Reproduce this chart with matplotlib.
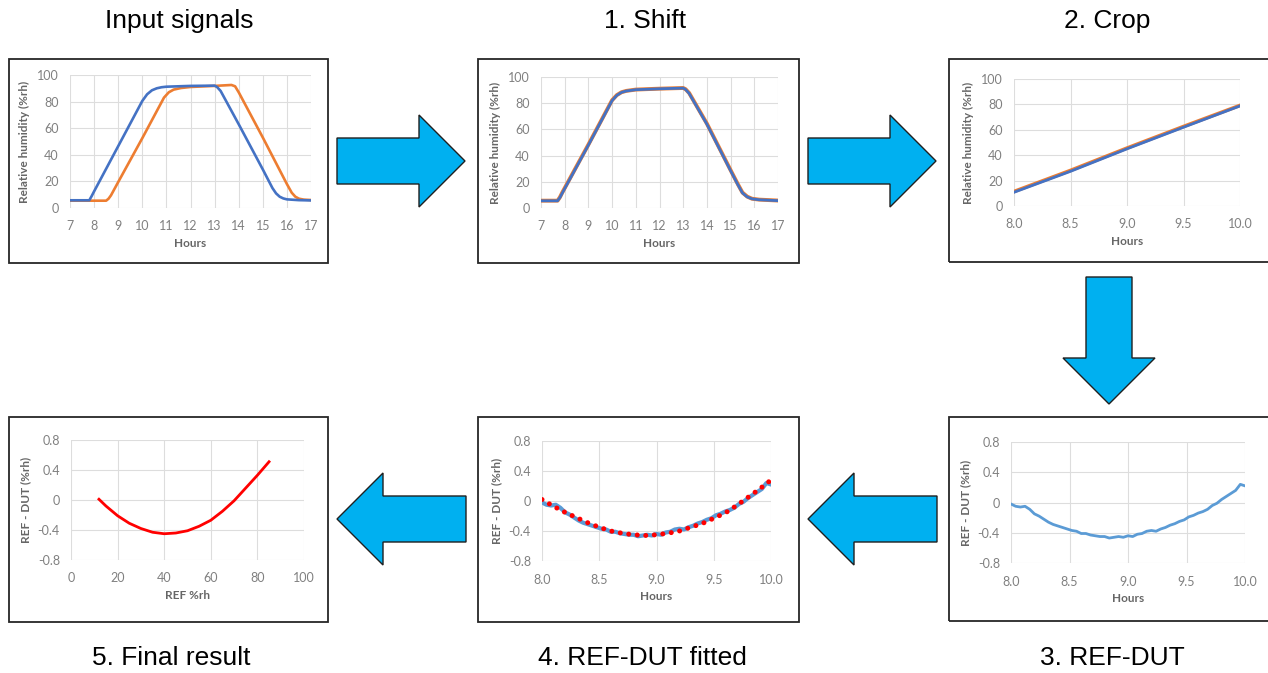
import numpy as np
import matplotlib.pyplot as plt
from matplotlib.patches import Rectangle, Polygon
from matplotlib.ticker import FuncFormatter

plt.rcParams['axes.unicode_minus'] = False

W, H = 1268, 673

# --- input signals (hours, %rh) ---
in_hours_ref = [7.0, 7.8, 7.9, 8.0, 9.0, 10.0, 10.2, 10.4, 10.6, 10.8, 11.0, 12.0, 13.0,
                13.1, 13.25, 14.0, 15.0, 15.4, 15.55, 15.7, 15.85, 16.0, 16.5, 17.0]
in_ref = [5.8, 5.8, 9.0, 12.5, 46.5, 80.5, 85.5, 88.5, 90.0, 90.8, 91.2, 91.8, 92.0,
          91.0, 88.0, 63.0, 29.0, 15.0, 11.0, 8.5, 7.2, 6.5, 5.9, 5.7]
in_hours_dut = [7.0, 8.5, 8.6, 8.7, 9.0, 10.0, 10.9, 11.1, 11.3, 11.6, 12.0, 13.0, 13.7,
                13.85, 14.0, 15.0, 16.0, 16.2, 16.35, 16.5, 16.7, 17.0]
in_dut = [5.5, 5.5, 7.0, 9.5, 19.5, 52.5, 83.0, 87.0, 89.0, 90.2, 91.0, 91.8, 92.5,
          91.5, 87.0, 53.0, 18.0, 11.5, 8.5, 7.0, 6.3, 6.0]

# --- after time shift ---
sh_hours = [7.0, 7.7, 7.8, 7.9, 9.0, 10.0, 10.2, 10.4, 10.6, 11.0, 12.0, 13.0, 13.1,
            13.25, 14.0, 15.0, 15.3, 15.5, 15.7, 15.9, 16.2, 17.0]
sh_ref = [5.5, 5.5, 8.0, 11.5, 48.0, 82.0, 86.0, 88.3, 89.3, 90.3, 91.0, 91.5, 90.5,
          87.5, 64.0, 28.5, 18.0, 11.5, 8.5, 7.0, 6.3, 5.6]
sh_dut = [5.6, 5.6, 8.3, 11.9, 48.4, 82.3, 86.2, 88.4, 89.4, 90.4, 91.1, 91.6, 90.7,
          87.8, 64.4, 28.9, 18.4, 11.8, 8.7, 7.1, 6.4, 5.7]

# --- cropped ramp ---
crop_hours = [8.0, 8.5, 9.0, 9.5, 10.0]
crop_ref = [10.8, 27.3, 45.0, 62.0, 78.8]
crop_dut = [11.4, 28.0, 45.6, 62.6, 79.2]

# --- REF - DUT difference over the ramp ---
diff_hours = np.linspace(8.0, 10.0, 51)
diff = [-0.02, -0.05, -0.06, -0.05, -0.09, -0.15, -0.18, -0.22, -0.26, -0.29,
        -0.31, -0.33, -0.35, -0.37, -0.38, -0.41, -0.41, -0.43, -0.44, -0.45,
        -0.45, -0.47, -0.46, -0.45, -0.46, -0.44, -0.45, -0.42, -0.41, -0.38,
        -0.37, -0.38, -0.35, -0.33, -0.30, -0.28, -0.25, -0.23, -0.19, -0.17,
        -0.14, -0.12, -0.09, -0.04, -0.01, 0.04, 0.08, 0.12, 0.16, 0.24, 0.22]

# --- polynomial fit of the difference ---
fit_hours = [8.0, 8.1, 8.2, 8.3, 8.4, 8.5, 8.6, 8.7, 8.8, 8.9, 9.0,
             9.1, 9.2, 9.3, 9.4, 9.5, 9.6, 9.7, 9.8, 9.9, 10.0]
fit = [0.02, -0.07, -0.15, -0.22, -0.29, -0.35, -0.40, -0.43, -0.45, -0.46, -0.45,
       -0.43, -0.40, -0.35, -0.30, -0.23, -0.16, -0.06, 0.05, 0.16, 0.28]

# --- final correction vs REF humidity ---
final_rh = [12, 15, 20, 25, 30, 35, 40, 45, 50, 55, 60, 65, 70, 75, 80, 85]
final_corr = [0.01, -0.08, -0.21, -0.31, -0.38, -0.43, -0.45, -0.44, -0.41, -0.35,
              -0.27, -0.15, -0.01, 0.16, 0.33, 0.51]

BLUE, ORANGE, LBLUE, RED = '#4472C4', '#ED7D31', '#5B9BD5', '#FF0000'
TICK_C, LAB_C, GRID_C = '#808080', '#666666', '#DDDDDD'

fig = plt.figure(figsize=(W / 100, H / 100), dpi=100)


def fx(x):
    return x / W


def fy(y):
    return 1 - y / H


def panel(frame, area, xlim, ylim, xticks, yticks, xfmt, ylabel, xlabel):
    l, t, r, b = frame
    fig.add_artist(Rectangle((fx(l), fy(b)), fx(r - l), (b - t) / H,
                             transform=fig.transFigure, fill=False,
                             edgecolor='#262626', lw=1.3))
    l, t, r, b = area
    ax = fig.add_axes([fx(l), fy(b), fx(r - l), (b - t) / H])
    ax.set_xlim(xlim)
    ax.set_ylim(ylim)
    ax.set_xticks(xticks)
    ax.set_yticks(yticks)
    ax.xaxis.set_major_formatter(FuncFormatter(xfmt))
    ax.yaxis.set_major_formatter(FuncFormatter(lambda v, p: f'{v:g}'))
    for s in ax.spines.values():
        s.set_visible(False)
    ax.grid(True, color=GRID_C, lw=0.8)
    ax.set_axisbelow(True)
    ax.tick_params(length=0, labelsize=9, labelcolor=TICK_C)
    ax.tick_params(axis='x', pad=9)
    ax.tick_params(axis='y', pad=8)
    for lab in ax.get_xticklabels() + ax.get_yticklabels():
        lab.set_family('Lato')
    ax.set_xlabel(xlabel, fontsize=8.5, fontweight='bold', color=LAB_C,
                  family='Lato', labelpad=4)
    ax.set_ylabel(ylabel, fontsize=8.5, fontweight='bold', color=LAB_C,
                  family='Lato', labelpad=5)
    return ax


int_fmt = lambda v, p: f'{v:g}'
one_fmt = lambda v, p: f'{v:.1f}'
rh_label = 'Relative humidity (%rh)'
d_label = 'REF - DUT (%rh)'

ax1 = panel((9, 59, 328, 263), (70, 75, 311, 208), (7, 17), (0, 100),
            range(7, 18), range(0, 101, 20), int_fmt, rh_label, 'Hours')
ax1.plot(in_hours_dut, in_dut, color=ORANGE, lw=1.9)
ax1.plot(in_hours_ref, in_ref, color=BLUE, lw=1.9)

ax2 = panel((478, 59, 799, 263), (541, 77, 778, 208), (7, 17), (0, 100),
            range(7, 18), range(0, 101, 20), int_fmt, rh_label, 'Hours')
ax2.plot(sh_hours, sh_dut, color=ORANGE, lw=2.8)
ax2.plot(sh_hours, sh_ref, color=BLUE, lw=2.0)

ax3 = panel((949, 59, 1275, 262), (1014, 79, 1240, 206), (8, 10), (0, 100),
            [8.0, 8.5, 9.0, 9.5, 10.0], range(0, 101, 20), one_fmt, rh_label, 'Hours')
ax3.plot(crop_hours, crop_dut, color=ORANGE, lw=2.6)
ax3.plot(crop_hours, crop_ref, color=BLUE, lw=2.0)

ax6 = panel((949, 417, 1275, 621), (1011, 442, 1245, 563), (8, 10), (-0.8, 0.8),
            [8.0, 8.5, 9.0, 9.5, 10.0], [-0.8, -0.4, 0, 0.4, 0.8], one_fmt, d_label, 'Hours')
ax6.plot(diff_hours, diff, color=LBLUE, lw=2.0)

ax5 = panel((478, 417, 799, 622), (542, 441, 771, 561), (8, 10), (-0.8, 0.8),
            [8.0, 8.5, 9.0, 9.5, 10.0], [-0.8, -0.4, 0, 0.4, 0.8], one_fmt, d_label, 'Hours')
ax5.plot(diff_hours, diff, color=LBLUE, lw=3.0)
ax5.plot(fit_hours, fit, color=RED, lw=3.6, linestyle=(0, (0.01, 1.7)),
         dash_capstyle='round')

ax4 = panel((9, 417, 328, 622), (71, 440, 304, 560), (0, 100), (-0.8, 0.8),
            range(0, 101, 20), [-0.8, -0.4, 0, 0.4, 0.8], int_fmt, d_label, 'REF %rh')
ax4.plot(final_rh, final_corr, color=RED, lw=2.0)


def arrow(tail, tip, shaft=46, head=92, head_len=46):
    p0, p1 = np.array(tail, float), np.array(tip, float)
    d = (p1 - p0) / np.linalg.norm(p1 - p0)
    n = np.array([-d[1], d[0]])
    base = p1 - d * head_len
    pts = [p0 + n * shaft / 2, base + n * shaft / 2, base + n * head / 2, p1,
           base - n * head / 2, base - n * shaft / 2, p0 - n * shaft / 2]
    pts = [(fx(x), fy(y)) for x, y in pts]
    fig.add_artist(Polygon(pts, closed=True, transform=fig.transFigure,
                           facecolor='#00B0F0', edgecolor='#1F1F1F', lw=1.0))


arrow((337, 161), (465, 161))
arrow((808, 161), (936, 161))
arrow((1109, 277), (1109, 404))
arrow((937, 519), (808, 519))
arrow((466, 519), (337, 519))

title_kw = dict(fontsize=19, family='Liberation Sans', ha='center', va='baseline',
                color='black', transform=fig.transFigure)
fig.text(fx(179), fy(28), 'Input signals', **title_kw)
fig.text(fx(645), fy(28), '1. Shift', **title_kw)
fig.text(fx(1107), fy(28), '2. Crop', **title_kw)
fig.text(fx(171), fy(665), '5. Final result', **title_kw)
fig.text(fx(642), fy(665), '4. REF-DUT fitted', **title_kw)
fig.text(fx(1112), fy(665), '3. REF-DUT', **title_kw)

fig.savefig('out.png', dpi=100)
